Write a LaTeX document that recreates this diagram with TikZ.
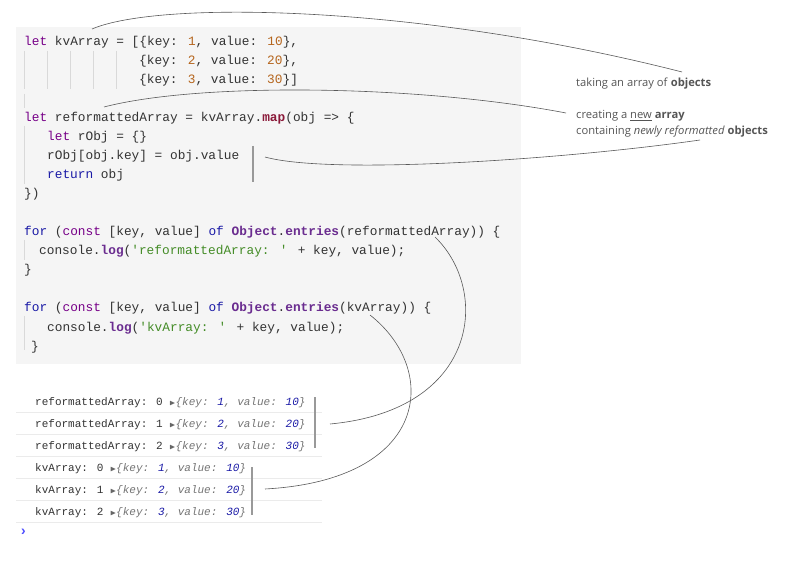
\documentclass[tikz,border=0pt]{standalone}
\usepackage{amssymb}
\usepackage{fontspec}
\setmainfont{Open Sans}
\newfontfamily\codef{Liberation Mono}
\definecolor{kw}{HTML}{770088}
\definecolor{idc}{HTML}{333333}
\definecolor{num}{HTML}{B5651D}
\definecolor{fn}{HTML}{8B1A3A}
\definecolor{pf}{HTML}{6A2C8F}
\definecolor{str}{HTML}{448C27}
\definecolor{vb}{HTML}{1A1AA6}
\definecolor{ann}{HTML}{555555}
\newcommand\myK[1]{\textcolor{kw}{#1}}
\newcommand\myN[1]{\textcolor{num}{#1}}
\begin{document}
\begin{tikzpicture}[x=1pt,y=-1pt,
 code/.style={anchor=base west,inner sep=0,font=\codef\fontsize{12.8}{14}\selectfont,text=idc},
 cons/.style={anchor=base west,inner sep=0,font=\codef\fontsize{11}{13}\selectfont,text=idc},
 note/.style={anchor=base west,inner sep=0,font=\fontsize{11.2}{13}\selectfont,text=ann},
 link/.style={draw=black!65,line width=0.6pt},
 bar/.style={draw=black!40,line width=1.2pt},
 guide/.style={draw=black!15,line width=0.5pt}]
\useasboundingbox (0,0) rectangle (798,561);
\fill[black!4] (16,27) rectangle (521,364);
% guides
\foreach \x in {24,47,70,93,116} \draw[guide] (\x,51) -- (\x,89);
\draw[guide] (24,94) -- (24,108);
\draw[guide] (24,126) -- (24,184);
\draw[guide] (24,240) -- (24,260);
\draw[guide] (24,316) -- (24,350);
% code
\node[code] (c1) at (24,46) {\myK{let} kvArray = [\{key: \myN{1}, value: \myN{10}\},};
\node[code] (c2) at (139,65) {\{key: \myN{2}, value: \myN{20}\},};
\node[code] (c3) at (139,84) {\{key: \myN{3}, value: \myN{30}\}]};
\node[code] (c4) at (24,122) {\myK{let} reformattedArray = kvArray.\textbf{\textcolor{fn}{map}}(obj => \{};
\node[code] (c5) at (47,141) {\myK{let} rObj = \{\}};
\node[code] (c6) at (47,160) {rObj[obj.key] = obj.value};
\node[code] (c7) at (47,179) {\textcolor{vb}{return} obj};
\node[code] (c8) at (24,198) {\})};
\node[code] (c9) at (24,236) {\textcolor{vb}{for} (\myK{const} [key, value] \textcolor{vb}{of} \textbf{\textcolor{pf}{Object}}.\textbf{\textcolor{pf}{entries}}(reformattedArray)) \{};
\node[code] (c10) at (39,255) {console.\textbf{\textcolor{pf}{log}}(\textcolor{str}{'reformattedArray: '} + key, value);};
\node[code] (c11) at (24,274) {\}};
\node[code] (c12) at (24,312) {\textcolor{vb}{for} (\myK{const} [key, value] \textcolor{vb}{of} \textbf{\textcolor{pf}{Object}}.\textbf{\textcolor{pf}{entries}}(kvArray)) \{};
\node[code] (c13) at (47,331) {console.\textbf{\textcolor{pf}{log}}(\textcolor{str}{'kvArray: '} + key, value);};
\node[code] (c14) at (31,350) {\}};
% console
\foreach \y/\t/\k/\v [count=\i] in {405/reformattedArray: 0/1/10,427/reformattedArray: 1/2/20,449/reformattedArray: 2/3/30,471/kvArray: 0/1/10,493/kvArray: 1/2/20,515/kvArray: 2/3/30}{
 \node[cons] (o\i) at (35,\y) {\t\ \textcolor{black!60}{\fontsize{8}{9}\selectfont$\blacktriangleright$}{\itshape\textcolor{black!55}{\{key: \textcolor{vb}{\k}, value: \textcolor{vb}{\v}\}}}};
 \draw[black!8] (16,\y+7) -- (322,\y+7);
}
\node[cons,text=blue!70,font=\codef\fontsize{14}{16}\selectfont] (pr) at (19,535) {\textbf{›}};
% bars
\draw[bar] (253,146) -- (253,182);
\draw[bar] (315,397) -- (315,448);
\draw[bar] (252,467) -- (252,515);
% notes
\node[note] (n1) at (576,87) {taking an array of \textbf{objects}};
\node[note] (n2) at (576,119) {creating a \underline{new} \textbf{array}};
\node[note] (n3) at (576,135) {containing \textit{newly reformatted} \textbf{objects}};
% links
\coordinate (a1) at (92,29); \coordinate (b1) at (682,72);
\draw[link] (a1) .. controls (160,0) and (420,5) .. (b1);
\coordinate (a2) at (104,107); \coordinate (b2) at (566,113);
\draw[link] (a2) .. controls (200,82) and (420,85) .. (b2);
\coordinate (a3) at (265,157); \coordinate (b3) at (700,140);
\draw[link] (a3) .. controls (330,175) and (560,160) .. (b3);
\coordinate (a4) at (435,237); \coordinate (b4) at (330,424);
\draw[link] (a4) .. controls (490,290) and (480,410) .. (b4);
\coordinate (a5) at (370,315); \coordinate (b5) at (265,489);
\draw[link] (a5) .. controls (440,370) and (430,480) .. (b5);
\end{tikzpicture}
\end{document}
